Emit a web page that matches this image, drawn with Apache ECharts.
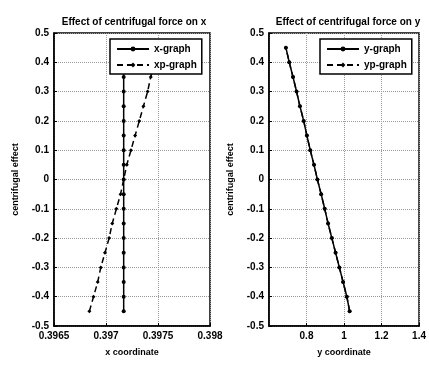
<html>
<head>
<meta charset="utf-8" />
<title>centrifugal effect</title>
<script src="https://cdn.jsdelivr.net/npm/echarts@6/dist/echarts.min.js"></script>
<style type="text/css">
body { margin: 0; background: #fff; }
#main { width: 429px; height: 385px; }
</style>
</head>
<body>
<div id="main"></div>
<script type="text/javascript">
// centrifugal effect values (shared y of every curve)
var effect = [-0.45, -0.4, -0.35, -0.3, -0.25, -0.2, -0.15, -0.1, -0.05, 0,
	0.05, 0.1, 0.15, 0.2, 0.25, 0.3, 0.35, 0.4, 0.45];
// x coordinates
var xGraph = [0.39717, 0.39717, 0.39717, 0.39717, 0.39717, 0.39717, 0.39717, 0.39717, 0.39717, 0.39717,
	0.39717, 0.39717, 0.39717, 0.39717, 0.39717, 0.39717, 0.39717, 0.39717, 0.39717];
var xpGraph = [0.39684, 0.39688, 0.39692, 0.39695, 0.39699, 0.39703, 0.39706, 0.3971, 0.39714, 0.39717,
	0.3972, 0.39724, 0.39728, 0.39732, 0.39736, 0.3974, 0.39743, 0.39747, 0.3975];
// y coordinates
var yGraph = [1.03, 1.015, 0.995, 0.975, 0.955, 0.935, 0.915, 0.897, 0.878, 0.858,
	0.84, 0.82, 0.802, 0.785, 0.765, 0.747, 0.728, 0.708, 0.69];
var ypGraph = [1.03, 1.015, 0.995, 0.975, 0.955, 0.935, 0.915, 0.897, 0.878, 0.858,
	0.84, 0.82, 0.802, 0.785, 0.765, 0.747, 0.728, 0.708, 0.69];
var effectTicks = { min: -0.5, max: 0.5, interval: 0.1 };

function pairs(xs) {
	return xs.map(function (x, i) { return [x, effect[i]]; });
}

var myChart = echarts.init(document.getElementById("main"));
var font = "Liberation Sans, Arial, sans-serif";
var labelStyle = { color: "#000", fontSize: 10, fontWeight: "bold", fontFamily: font };
var gridLine = { show: true, lineStyle: { color: "#999", type: "dotted", width: 1 } };

function yAxisFor(idx) {
	return {
		type: "value", gridIndex: idx,
		min: effectTicks.min, max: effectTicks.max, interval: effectTicks.interval,
		name: "centrifugal effect", nameLocation: "middle", nameGap: 34,
		nameTextStyle: { color: "#000", fontSize: 9, fontWeight: "bold", fontFamily: font },
		axisLine: { show: true, onZero: false, lineStyle: { color: "#000", width: 1.5 } },
		axisTick: { show: true, inside: true, length: 3, lineStyle: { color: "#000" } },
		axisLabel: Object.assign({ margin: 5 }, labelStyle),
		splitLine: gridLine
	};
}

function lineSeries(name, xi, yi, xs, dashed, sym) {
	return {
		name: name, type: "line", xAxisIndex: xi, yAxisIndex: yi,
		data: pairs(xs),
		symbol: sym, symbolSize: 4,
		itemStyle: { color: "#000" },
		lineStyle: { color: "#000", width: 1.5, type: dashed ? [6, 4] : "solid" },
		animation: false
	};
}

var legendBase = {
	orient: "vertical", itemWidth: 32, itemHeight: 6, itemGap: 6,
	padding: [5, 5, 4, 6],
	backgroundColor: "#fff", borderColor: "#000", borderWidth: 1.5,
	textStyle: { color: "#000", fontSize: 10, fontWeight: "bold", fontFamily: font }
};

var option = {
	backgroundColor: "#fff",
	title: [
		{ text: "Effect of centrifugal force on x", left: 129, top: 12, textAlign: "center",
			textStyle: { color: "#000", fontSize: 10, fontWeight: "bold", fontFamily: font } },
		{ text: "Effect of centrifugal force on y", left: 343, top: 12, textAlign: "center",
			textStyle: { color: "#000", fontSize: 10, fontWeight: "bold", fontFamily: font } }
	],
	legend: [
		Object.assign({ data: ["x-graph", "xp-graph"], left: 110, top: 39 }, legendBase),
		Object.assign({ data: ["y-graph", "yp-graph"], left: 320, top: 39 }, legendBase)
	],
	grid: [
		{ left: 54, top: 33, width: 156, height: 293, show: true, borderColor: "#000", borderWidth: 1.5 },
		{ left: 269, top: 33, width: 155, height: 293, show: true, borderColor: "#000", borderWidth: 1.5 }
	],
	xAxis: [
		{
			type: "value", gridIndex: 0, min: 0.3965, max: 0.398, interval: 0.0005,
			name: "x coordinate", nameLocation: "middle", nameGap: 22,
			nameTextStyle: { color: "#000", fontSize: 9, fontWeight: "bold", fontFamily: font },
			axisLine: { show: true, onZero: false, lineStyle: { color: "#000", width: 1.5 } },
			axisTick: { show: true, inside: true, length: 3, lineStyle: { color: "#000" } },
			axisLabel: Object.assign({ margin: 5, formatter: function (v) { return +v.toFixed(4) + ""; } }, labelStyle),
			splitLine: gridLine
		},
		{
			type: "value", gridIndex: 1, min: 0.6, max: 1.4, interval: 0.2,
			name: "y coordinate", nameLocation: "middle", nameGap: 22,
			nameTextStyle: { color: "#000", fontSize: 9, fontWeight: "bold", fontFamily: font },
			axisLine: { show: true, onZero: false, lineStyle: { color: "#000", width: 1.5 } },
			axisTick: { show: true, inside: true, length: 3, lineStyle: { color: "#000" } },
			axisLabel: Object.assign({ margin: 5, showMinLabel: false, formatter: function (v) { return +v.toFixed(1) + ""; } }, labelStyle),
			splitLine: gridLine
		}
	],
	yAxis: [yAxisFor(0), yAxisFor(1)],
	series: [
		lineSeries("x-graph", 0, 0, xGraph, false, "circle"),
		lineSeries("xp-graph", 0, 0, xpGraph, true, "diamond"),
		lineSeries("y-graph", 1, 1, yGraph, false, "circle"),
		lineSeries("yp-graph", 1, 1, ypGraph, true, "diamond")
	]
};

myChart.setOption(option);
</script>
</body>
</html>
